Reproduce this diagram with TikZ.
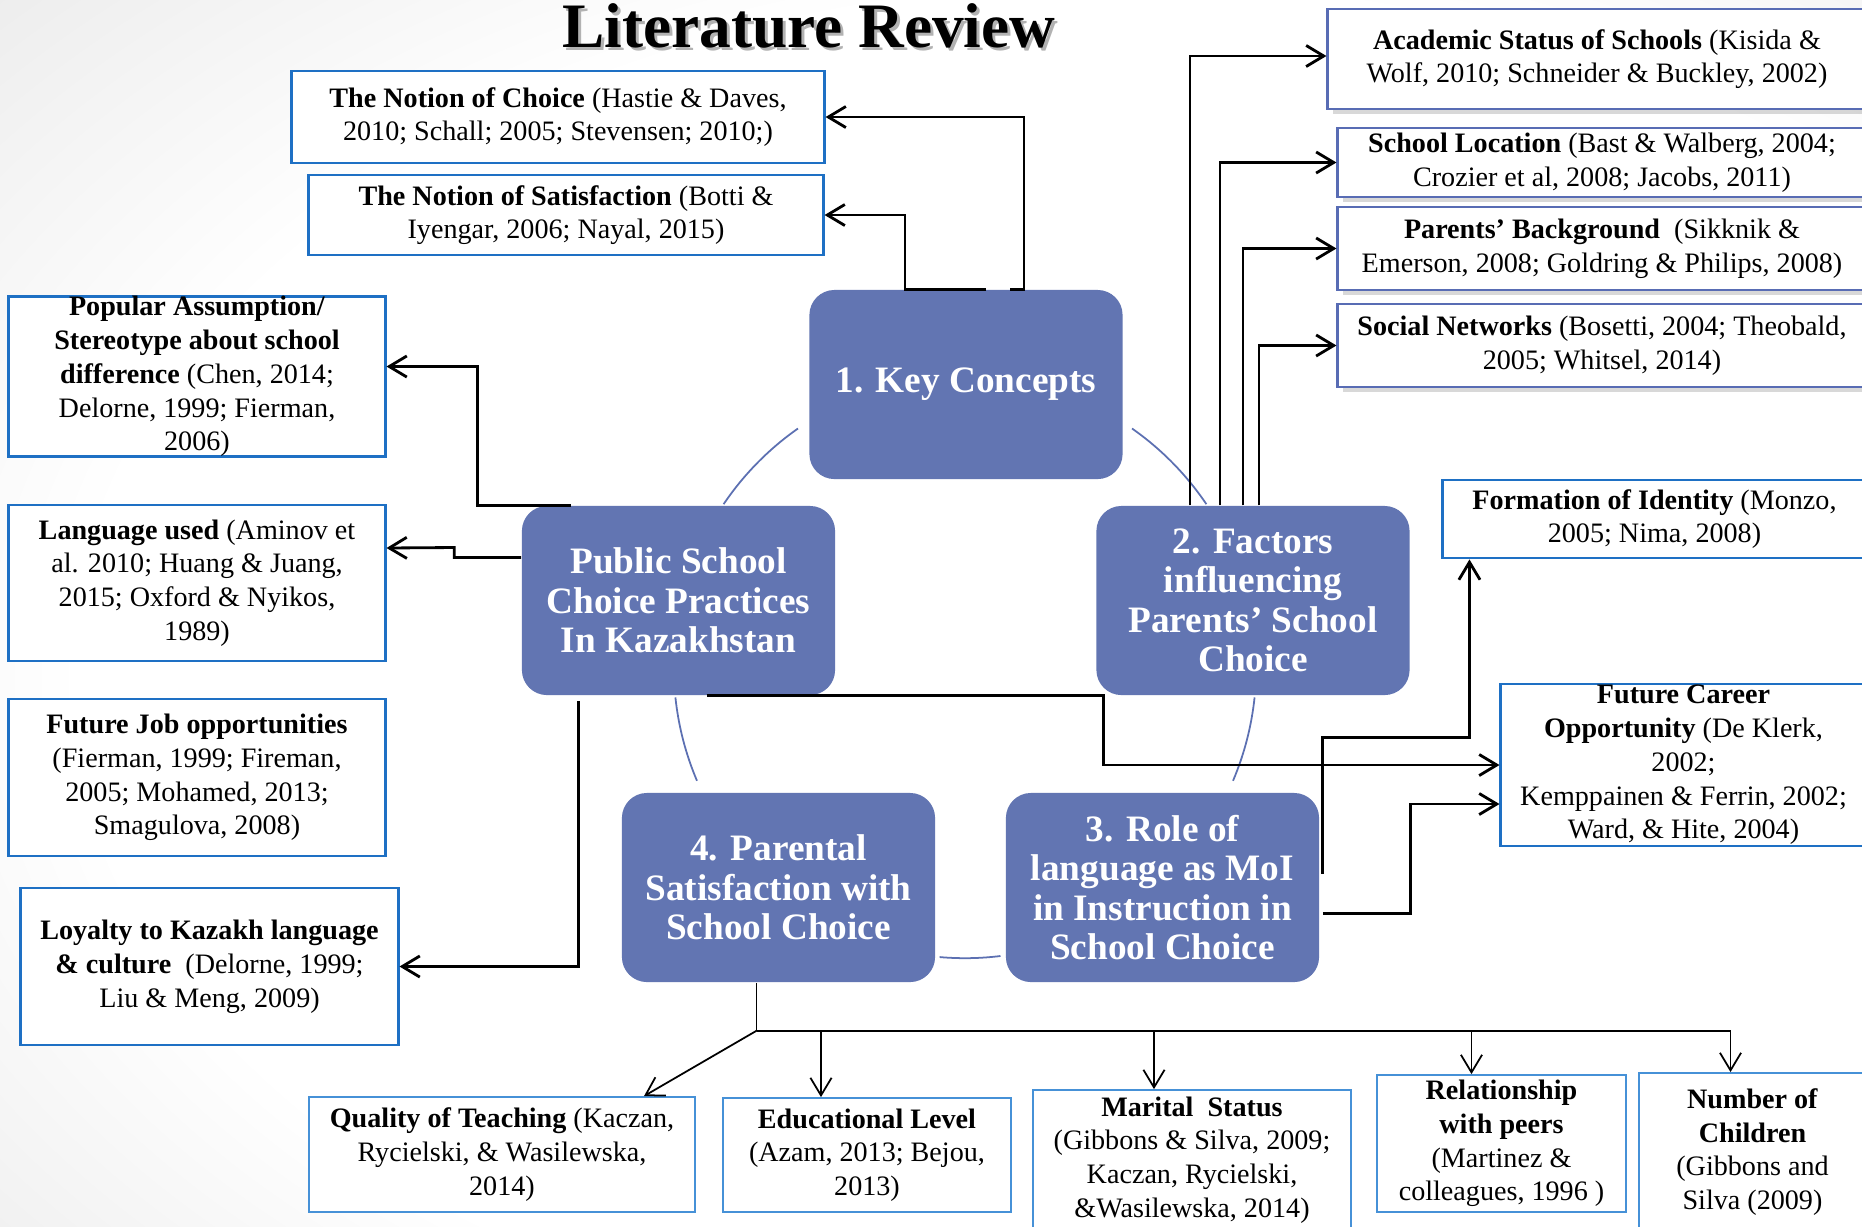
\documentclass[tikz,border=0pt]{standalone}
\usepackage{fontspec}
\setmainfont{Liberation Serif}
\usetikzlibrary{calc, shadows, arrows.meta}

\definecolor{boxblue}{RGB}{98,117,178}
\definecolor{edgeblue}{RGB}{30,112,196}
\definecolor{slateblue}{RGB}{88,108,180}
\definecolor{thinblue}{RGB}{70,145,215}
\definecolor{ringblue}{RGB}{92,112,178}
\pgfdeclareradialshading{slidebg}{\pgfpoint{8bp}{-4bp}}{color(0bp)=(white); color(28bp)=(white); color(55bp)=(black!16); color(80bp)=(black!24)}

\begin{document}
\begin{tikzpicture}[x=0.01cm, y=-0.01cm, >={Straight Barb[length=5pt,width=6pt]},
    topic/.style={rectangle, rounded corners=0.25cm, fill=boxblue, text=white, minimum width=3.13cm, minimum height=1.89cm, align=center, font=\fontsize{10.6}{11.2}\selectfont\bfseries},
    litbox/.style={rectangle, draw=edgeblue, line width=0.8pt, fill=white, inner sep=0pt, align=center, font=\fontsize{8}{9.6}\selectfont},
    litshadow/.style={litbox, draw=slateblue, drop shadow={shadow xshift=1.5pt, shadow yshift=-1.5pt, opacity=0.3}},
    litthin/.style={litbox, draw=thinblue, line width=0.5pt},
    link/.style={->, line width=0.8pt},
    tlink/.style={->, line width=0.5pt}]
    \useasboundingbox (0,0) rectangle (1862,1226);
    \clip (0,0) rectangle (1862,1226);
    \shade[shading=slidebg] (0,0) rectangle (1862,1226);

    % title
    \node [font=\fontsize{18}{20}\selectfont\bfseries, anchor=base, text=black!30] (Tsh) at (812,50) {Literature Review};
    \node [font=\fontsize{18}{20}\selectfont\bfseries, anchor=base] (T) at (809,47) {Literature Review};

    % cycle
    \coordinate (C) at (965,667);
    \foreach \a/\b in {125/146, 55/34, -6/-23, -83/-95, -157/-174}
        \draw [ringblue, line width=0.5pt] ($(C)+(\a:2.91cm)$) arc [start angle=\a, end angle=\b, radius=2.91cm];

    \node [topic] (KC) at (966,384.5) {1. Key Concepts};
    \node [topic] (PS) at (678.5,600.5) {Public School\\Choice Practices\\In Kazakhstan};
    \node [topic] (FA) at (1253,600.5) {2. Factors\\influencing\\Parents’ School\\Choice};
    \node [topic] (RL) at (1162.5,887.5) {3. Role of\\language as MoI\\in Instruction in\\School Choice};
    \node [topic] (PA) at (778.5,887.5) {4. Parental\\Satisfaction with\\School Choice};

    % key concepts
    \node [litbox, minimum width=5.32cm, minimum height=0.92cm] (NC) at (558,117) {\textbf{The Notion of Choice} (Hastie \& Daves,\\2010; Schall; 2005; Stevensen; 2010;)};
    \node [litbox, minimum width=5.14cm, minimum height=0.80cm] (NS) at (566,215) {\textbf{The Notion of Satisfaction} (Botti \&\\Iyengar, 2006; Nayal, 2015)};

    % public school choice
    \node [litbox, minimum width=3.76cm, minimum height=1.57cm] (PO) at (197,376.5) {\textbf{Popular Assumption/}\\\textbf{Stereotype about school}\\\textbf{difference} (Chen, 2014;\\Delorne, 1999; Fierman,\\2006)};
    \node [litbox, minimum width=3.76cm, minimum height=1.56cm] (LU) at (197,583) {\textbf{Language used} (Aminov et\\al. 2010; Huang \& Juang,\\2015; Oxford \& Nyikos,\\1989)};
    \node [litbox, minimum width=3.76cm, minimum height=1.57cm] (FJ) at (197,777.5) {\textbf{Future Job opportunities}\\(Fierman, 1999; Fireman,\\2005; Mohamed, 2013;\\Smagulova, 2008)};
    \node [litbox, minimum width=3.77cm, minimum height=1.57cm] (LO) at (209.5,966.5) {\textbf{Loyalty to Kazakh language}\\\textbf{\& culture}\ \ (Delorne, 1999;\\Liu \& Meng, 2009)};

    % factors
    \node [litshadow, minimum width=5.38cm, minimum height=1.00cm] (AS) at (1597,59) {\textbf{Academic Status of Schools} (Kisida \&\\Wolf, 2010; Schneider \& Buckley, 2002)};
    \node [litshadow, minimum width=5.28cm, minimum height=0.69cm] (SL) at (1602,162.5) {\textbf{School Location} (Bast \& Walberg, 2004;\\Crozier et al, 2008; Jacobs, 2011)};
    \node [litshadow, minimum width=5.28cm, minimum height=0.83cm] (PB) at (1602,248.5) {\textbf{Parents’ Background}\ \ (Sikknik \&\\Emerson, 2008; Goldring \& Philips, 2008)};
    \node [litshadow, minimum width=5.28cm, minimum height=0.83cm] (SN) at (1602,345.5) {\textbf{Social Networks} (Bosetti, 2004; Theobald,\\2005; Whitsel, 2014)};

    % role of language
    \node [litbox, minimum width=4.23cm, minimum height=0.78cm] (FI) at (1654.5,519) {\textbf{Formation of Identity} (Monzo,\\2005; Nima, 2008)};
    \node [litbox, minimum width=3.65cm, minimum height=1.62cm] (FC) at (1683.5,765) {\textbf{Future Career}\\\textbf{Opportunity} (De Klerk,\\2002;\\Kemppainen \& Ferrin, 2002;\\Ward, \& Hite, 2004)};

    % parental satisfaction
    \node [litthin, minimum width=3.86cm, minimum height=1.15cm] (QT) at (502,1154.5) {\textbf{Quality of Teaching} (Kaczan,\\Rycielski, \& Wasilewska,\\2014)};
    \node [litthin, minimum width=2.88cm, minimum height=1.14cm] (EL) at (867,1155) {\textbf{Educational Level}\\(Azam, 2013; Bejou,\\2013)};
    \node [litthin, minimum width=3.18cm, minimum height=1.40cm] (MS) at (1192,1160) {\textbf{Marital\ \ Status}\\(Gibbons \& Silva, 2009;\\Kaczan, Rycielski,\\\&Wasilewska, 2014)};
    \node [litthin, minimum width=2.49cm, minimum height=1.37cm] (RP) at (1501.5,1143.5) {\textbf{Relationship}\\\textbf{with peers}\\(Martinez \&\\colleagues, 1996 )};
    \node [litthin, minimum width=2.27cm, minimum height=1.58cm] (NCh) at (1752.5,1152) {\textbf{Number of}\\\textbf{Children}\\(Gibbons and\\Silva (2009)};

    \draw [link] ($(KC.north)+(20,0)$) -- ++(-81,0) |- (NS.east);
    \draw [link] ($(KC.north)+(44,0)$) -- ++(14,0) |- (NC.east);

    \draw [link] ($(FA.north)+(-63,0)$) |- ($(AS.west)+(0,-3)$);
    \draw [link] ($(FA.north)+(-33,0)$) |- (SL.west);
    \draw [link] ($(FA.north)+(-10,0)$) |- (PB.west);
    \draw [link] ($(FA.north)+(6,0)$) |- (SN.west);

    \draw [link] ($(PS.north)+(-108,0)$) -- ++(-93,0) |- ($(PO.east)+(0,-10)$);
    \draw [link] ($(PS.west)+(0,-43)$) -| ++(-67,-10) -- ($(LU.east)+(0,-35)$);
    \draw [link] ($(PS.south)+(-100,5)$) |- (LO.east);
    \draw [link] ($(PS.south)+(28,0)$) -- ++(397,0) |- (FC.west);

    \draw [link] ($(RL.east)+(3,-14)$) |- ($(FI.south west)+(28,178)$) -- ($(FI.south west)+(28,0)$);
    \draw [link] ($(RL.east)+(3,26)$) -| ($(FC.west)+(-89,39)$) -- ($(FC.west)+(0,39)$);

    \coordinate (J) at ($(PA.south)+(-22,48)$);
    \draw [line width=0.5pt] ($(PA.south)+(-22,0)$) -- (J);
    \draw [tlink] (J) -- ($(QT.north)+(142,0)$);
    \draw [tlink] (J) -| ($(EL.north)+(-46,0)$);
    \draw [tlink] (J) -| ($(MS.north)+(-38,0)$);
    \draw [tlink] (J) -| ($(RP.north)+(-30,0)$);
    \draw [tlink] (J) -| ($(NCh.north)+(-22,0)$);
\end{tikzpicture}
\end{document}
